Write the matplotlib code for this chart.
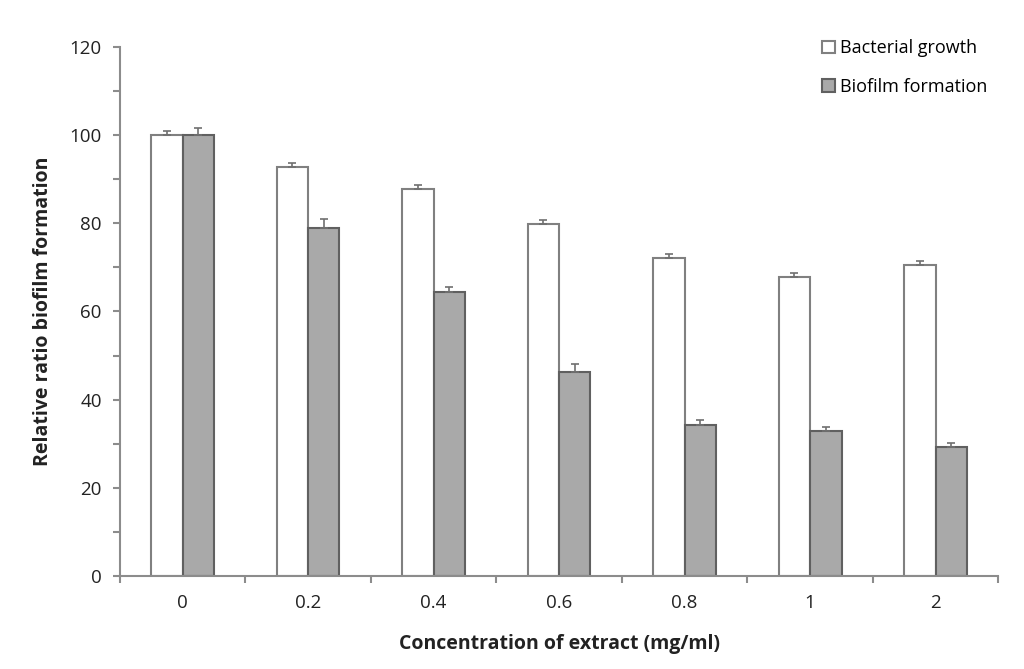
import matplotlib
matplotlib.use("Agg")
import matplotlib.pyplot as plt
import numpy as np
from matplotlib.ticker import MultipleLocator

categories = ["0", "0.2", "0.4", "0.6", "0.8", "1", "2"]
growth = [100.0, 92.7, 87.8, 79.9, 72.1, 67.9, 70.5]
growth_err = [0.9, 0.9, 0.9, 0.9, 0.9, 0.9, 0.9]
biofilm = [100.0, 79.0, 64.5, 46.3, 34.2, 32.8, 29.3]
biofilm_err = [1.5, 2.0, 1.0, 1.8, 1.1, 1.1, 0.9]

plt.rcParams["font.family"] = ["Open Sans", "DejaVu Sans"]

fig = plt.figure(figsize=(10.24, 6.69), dpi=100)
ax = fig.add_axes([0.117, 0.139, 0.858, 0.791])

x = np.arange(len(categories))
w = 0.25
axis_col = "#8c8c8c"
zeros = [0] * len(categories)

ax.bar(x - w / 2, growth, w, yerr=[zeros, growth_err], color="white", edgecolor="#808080",
       linewidth=1.5, label="Bacterial growth",
       error_kw=dict(ecolor="#707070", elinewidth=1.2, capsize=3, capthick=1.2))
ax.bar(x + w / 2, biofilm, w, yerr=[zeros, biofilm_err], color="#a9a9a9", edgecolor="#606060",
       linewidth=1.5, label="Biofilm formation",
       error_kw=dict(ecolor="#707070", elinewidth=1.2, capsize=3, capthick=1.2))

ax.set_xlim(-0.5, len(categories) - 0.5)
ax.set_ylim(0, 120)
ax.yaxis.set_major_locator(MultipleLocator(20))
ax.yaxis.set_minor_locator(MultipleLocator(10))

ax.set_xticks(x)
ax.set_xticklabels(categories)
ax.set_xticks(np.arange(len(categories) + 1) - 0.5, minor=True)
ax.tick_params(axis="x", which="major", length=0, labelsize=13.5, pad=13, labelcolor="#222222")
ax.tick_params(axis="x", which="minor", length=5, width=1.5, color=axis_col, direction="out")
ax.tick_params(axis="y", which="both", length=5, width=1.5, color=axis_col, direction="out",
               labelsize=13.5, labelcolor="#222222", pad=8)

for s in ["top", "right"]:
    ax.spines[s].set_visible(False)
for s in ["left", "bottom"]:
    ax.spines[s].set_color(axis_col)
    ax.spines[s].set_linewidth(1.5)

ax.set_xlabel("Concentration of extract (mg/ml)", fontsize=14, fontweight="bold",
              labelpad=16, color="#222222")
ax.set_ylabel("Relative ratio biofilm formation", fontsize=14, fontweight="bold",
              labelpad=12, color="#222222")

ax.legend(loc="upper right", bbox_to_anchor=(1.006, 1.045), frameon=False, fontsize=13,
          handlelength=0.7, handleheight=0.7, handletextpad=0.3, labelspacing=1.15)

fig.savefig("out.png", dpi=100)
